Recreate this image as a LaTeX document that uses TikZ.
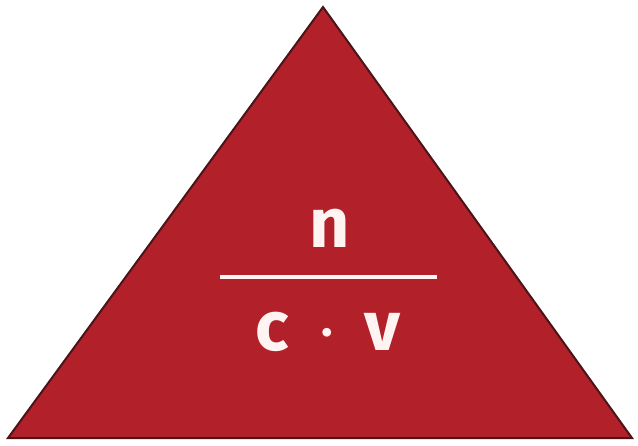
\documentclass[tikz,border=0pt]{standalone}
\usepackage{fontspec}
\setmainfont{Fira Sans}
\definecolor{TriRed}{HTML}{B2202A}
\definecolor{TriEdge}{HTML}{4A1418}
\definecolor{SoftWhite}{HTML}{FFF4F2}

\begin{document}
\begin{tikzpicture}[
        x=1pt, y=-1pt,
        label/.style={text=SoftWhite, font=\fontsize{70}{70}\selectfont\bfseries, inner sep=0pt},
        bar/.style={draw=SoftWhite, line width=4pt}
    ]
        \useasboundingbox (0,0) rectangle (638,445);
        % triangle
        \draw [fill=TriRed, draw=TriEdge, line width=2pt, line join=miter] (8,438) -- (632,438) -- (323,7) -- cycle;

        \node [label, anchor=base] (num) at (330,247) {n};
        \coordinate (barl) at (220,277);
        \coordinate (barr) at (437,277);
        \draw [bar] (barl) -- (barr);
        \node [label, anchor=base] (den) at (328,350) {c\hspace{0.46em}\raisebox{0.03em}{\fontsize{48}{48}\selectfont ·}\hspace{0.46em}v};
    \end{tikzpicture}
\end{document}
